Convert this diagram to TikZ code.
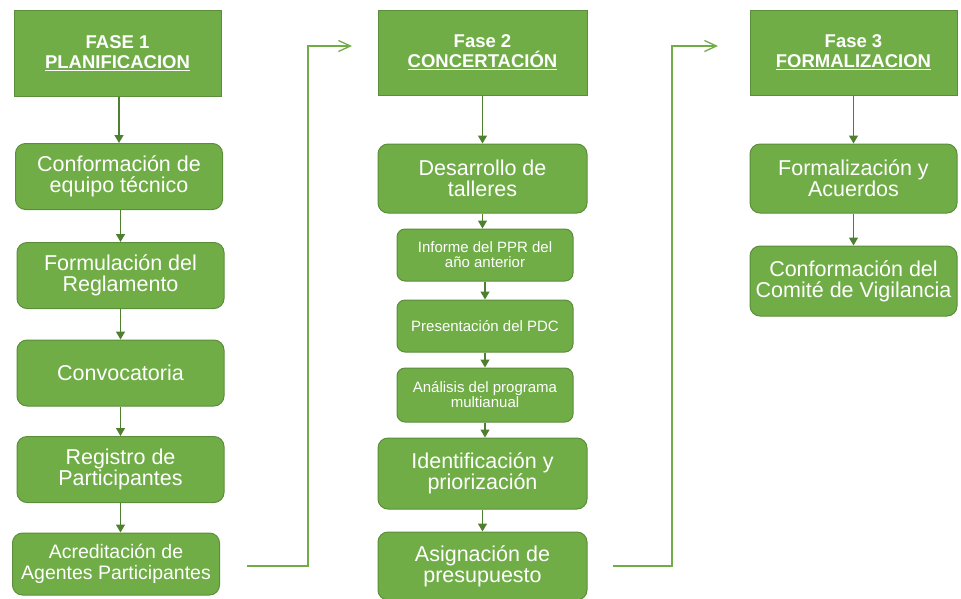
\documentclass[tikz,border=0pt]{standalone}
\usepackage{fontspec}
\setmainfont{Liberation Sans}
\usepackage{xcolor}
\usepackage{tikz}
\usetikzlibrary{arrows.meta,positioning,calc}

\definecolor{boxgreen}{HTML}{70AD47}
\definecolor{boxline}{HTML}{5A8E3A}
\definecolor{arrowgreen}{HTML}{4F8030}

\tikzset{
    fase/.style={draw=boxline, line width=1pt, fill=boxgreen, text=white, align=center,
        inner sep=0pt, minimum width=207pt, minimum height=86pt,
        font=\bfseries\fontsize{18.5}{20}\selectfont},
    paso/.style={draw=boxline, line width=1pt, fill=boxgreen, text=white, align=center,
        inner sep=0pt, rounded corners=10pt, minimum width=207pt, minimum height=66pt,
        font=\fontsize{21.5}{21}\selectfont},
    subpaso/.style={paso, minimum width=176pt, minimum height=52pt, rounded corners=8pt,
        font=\fontsize{15}{15}\selectfont},
    flecha/.style={draw=arrowgreen, line width=1.4pt, -{Triangle[width=9pt,length=8pt]}},
    enlace/.style={draw=boxgreen, line width=1.3pt, -{Straight Barb[width=11pt,length=12pt]}}
}

\begin{document}
\begin{tikzpicture}[x=1pt, y=-1pt]
    \useasboundingbox (0,0) rectangle (961,598);

    % Fase 1
    \node[fase] (f1) at (117.5,53.5) {FASE 1\\\underline{PLANIFICACION}};
    \node[paso] (conf) at (119,176.5) {Conformación de\\equipo técnico};
    \node[paso] (form) at (120.5,275.5) {Formulación del\\Reglamento};
    \node[paso] (conv) at (120.5,373) {Convocatoria};
    \node[paso] (regi) at (120.5,469.5) {Registro de\\Participantes};
    \node[paso, minimum height=62pt, font=\fontsize{19.5}{21}\selectfont] (acre) at (116,564) {Acreditación de\\Agentes Participantes};

    \draw[flecha] (f1.south -| conf) -- (conf.north);
    \draw[flecha] (conf.south -| form) -- (form.north);
    \draw[flecha] (form.south) -- (conv.north);
    \draw[flecha] (conv.south) -- (regi.north);
    \draw[flecha] (regi.south) -- (regi.south |- acre.north);

    % Fase 2
    \node[fase, minimum width=209pt, minimum height=85pt] (f2) at (482.5,52.5) {Fase 2\\\underline{CONCERTACIÓN}};
    \node[paso, minimum width=209pt, minimum height=69pt] (tall) at (482.5,178.5) {Desarrollo de\\talleres};
    \node[subpaso] (info) at (485,255) {Informe del PPR del\\año anterior};
    \node[subpaso] (pres) at (485,326) {Presentación del PDC};
    \node[subpaso, minimum height=54pt] (anal) at (485,395) {Análisis del programa\\multianual};
    \node[paso, minimum width=209pt, minimum height=71pt] (iden) at (482.5,473.5) {Identificación y\\priorización};
    \node[paso, minimum width=209pt, minimum height=68pt] (asig) at (482.5,566) {Asignación de\\presupuesto};

    \draw[flecha] (f2.south) -- (tall.north);
    \draw[flecha] (tall.south) -- (tall.south |- info.north);
    \draw[flecha] (info.south) -- (pres.north);
    \draw[flecha] (pres.south) -- (anal.north);
    \draw[flecha] (anal.south) -- (anal.south |- iden.north);
    \draw[flecha] (iden.south) -- (asig.north);

    % Fase 3
    \node[fase, minimum height=85pt] (f3) at (853.5,52.5) {Fase 3\\\underline{FORMALIZACION}};
    \node[paso, minimum height=69pt] (acue) at (853.5,178.5) {Formalización y\\Acuerdos};
    \node[paso, minimum height=70pt] (comi) at (853.5,281) {Conformación del\\Comité de Vigilancia};

    \draw[flecha] (f3.south) -- (acue.north);
    \draw[flecha] (acue.south) -- (comi.north);

    % enlaces entre fases
    \coordinate (e1a) at (247,566);
    \coordinate (e1b) at (352,46);
    \coordinate (e2a) at (613,566);
    \coordinate (e2b) at (718,46);
    \draw[enlace] (e1a) -- ++(61,0) |- (e1b);
    \draw[enlace] (e2a) -- ++(59,0) |- (e2b);
\end{tikzpicture}
\end{document}
